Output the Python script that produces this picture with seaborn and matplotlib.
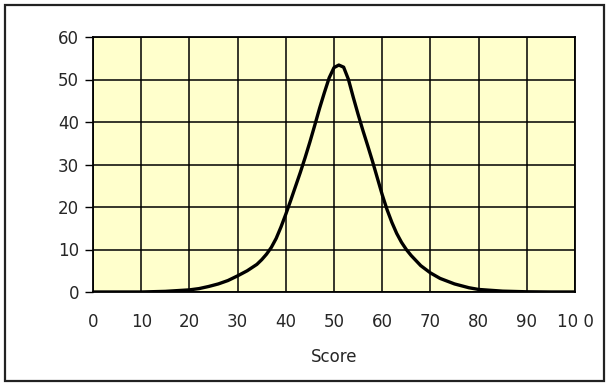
import matplotlib
matplotlib.use("Agg")
import matplotlib.pyplot as plt
import seaborn as sns
import pandas as pd
from matplotlib.patches import Rectangle

score = [0, 5, 10, 15, 20, 22, 24, 26, 28, 30, 32, 34, 35, 36, 37, 38, 39, 40, 41, 42, 43, 44, 45, 46,
         47, 48, 49, 50, 51, 52, 53, 54, 55, 56, 57, 58, 59, 60, 61, 62, 63, 64, 65, 66, 68, 70, 72,
         75, 78, 80, 85, 90, 95, 100]
freq = [0, 0, 0, 0.15, 0.5, 0.8, 1.3, 1.9, 2.7, 3.8, 5.0, 6.5, 7.6, 8.9, 10.5, 12.6, 15.3, 18.3, 21.5,
        24.8, 28.1, 31.6, 35.3, 39.2, 43.2, 46.9, 50.4, 52.8, 53.4, 52.9, 50.0, 45.8, 41.8, 38.0, 34.4,
        30.7, 26.8, 22.9, 19.4, 16.4, 13.8, 11.7, 10.0, 8.6, 6.2, 4.5, 3.2, 1.9, 1.0, 0.6, 0.2, 0.05, 0, 0]

x_ticks = [0, 10, 20, 30, 40, 50, 60, 70, 80, 90, 100]
x_labels = ["0", "10", "20", "30", "40", "50", "60", "70", "80", "90", "10 0"]
y_ticks = [0, 10, 20, 30, 40, 50, 60]

df = pd.DataFrame({"Score": score, "Frequency": freq})

sns.set_style("white")
plt.rcParams['font.family'] = ['DejaVu Sans']

fig = plt.figure(figsize=(6.11, 3.88), dpi=100)
ax = fig.add_axes([93/611, 1 - 292/388, (575-93)/611, (292-37)/388])
ax.set_facecolor("#FFFFCC")

sns.lineplot(data=df, x="Score", y="Frequency", ax=ax, color="black", linewidth=2.4,
             solid_joinstyle="round", solid_capstyle="round", zorder=3)

ax.set_xlim(0, 100)
ax.set_ylim(0, 60)
ax.set_xticks(x_ticks)
ax.set_xticklabels(x_labels)
ax.set_yticks(y_ticks)
ax.grid(True, color="black", linewidth=1.1)
ax.set_axisbelow(True)
for s in ax.spines.values():
    s.set_color("black")
    s.set_linewidth(1.3)
ax.tick_params(axis="y", length=6, width=1, color="black", labelsize=12, pad=4, left=True)
ax.tick_params(axis="x", length=0, labelsize=12, pad=15, bottom=False)
ax.set_ylabel("")
ax.set_xlabel("Score", fontsize=12, labelpad=12)

fig.patches.append(Rectangle((5/611, 1 - 381/388), 599/611, 376/388, transform=fig.transFigure,
                             fill=False, edgecolor="#222222", linewidth=1.6))

fig.savefig("out.png", dpi=100)
